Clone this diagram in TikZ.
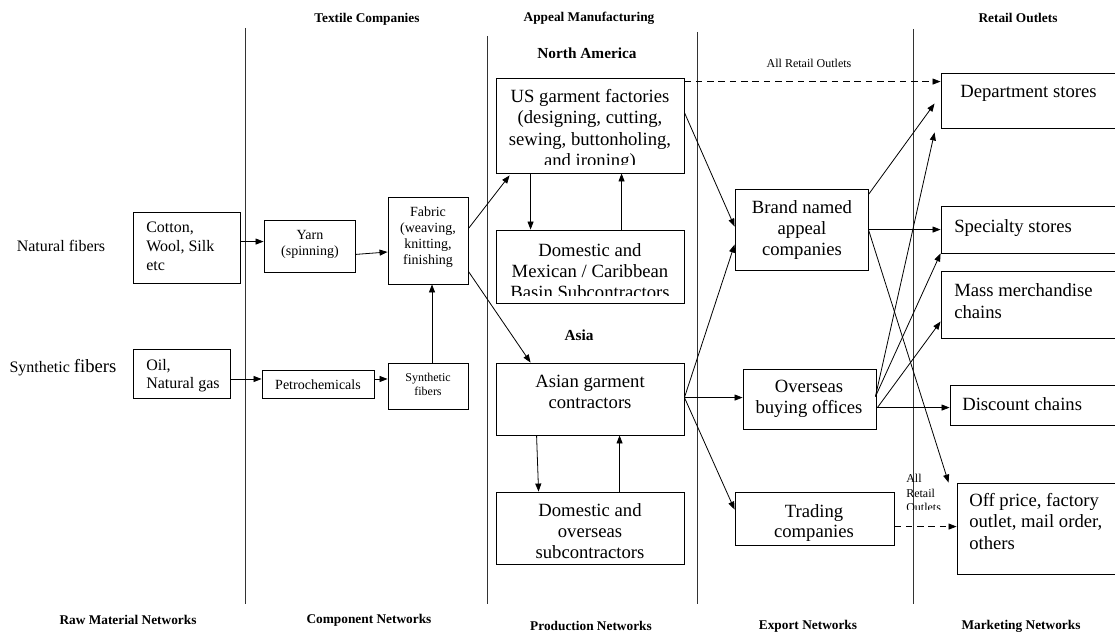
\documentclass[tikz,border=0pt]{standalone}
\usepackage{fontspec}
\setmainfont{Liberation Serif}
\usetikzlibrary{arrows.meta,calc,fit}
\begin{document}
\begin{tikzpicture}[x=0.75pt,y=-0.75pt,
  box/.style={draw, line width=0.65pt, inner sep=0pt},
  sep/.style={line width=0.75pt, draw=black!80},
  arr/.style={line width=0.6pt, -{Triangle[length=6pt,width=4.5pt]}},
  darr/.style={arr, dash pattern=on 5pt off 3.5pt},
  txt/.style={inner sep=0pt, align=center},
  big/.style={font=\fontsize{14}{16}\selectfont},
  mid/.style={font=\fontsize{12}{14}\selectfont},
  sml/.style={font=\fontsize{10.5}{12.3}\selectfont},
  head/.style={inner sep=0pt, font=\bfseries\fontsize{10}{12}\selectfont},
  region/.style={inner sep=0pt, font=\bfseries\fontsize{11.5}{13}\selectfont},
  note/.style={inner sep=0pt, font=\fontsize{9}{11}\selectfont},
]
\useasboundingbox (0,0) rectangle (1115,634);

% column separators
\draw[sep] (245,28) -- (245,604);
\draw[sep] (487,36) -- (487,604);
\draw[sep] (697,32) -- (697,604);
\draw[sep] (913,29) -- (913,604);

% column headings
\node[head] (hTex) at (367,19) {Textile Companies};
\node[head] (hApp) at (589,18) {Appeal Manufacturing};
\node[head] (hRet) at (1018,18) {Retail Outlets};
\node[region] (hNA) at (587,53) {North America};
\node[region] (hAsia) at (579,335) {Asia};
\node[note] (hAll) at (809,63) {All Retail Outlets};

% bottom labels
\node[head] (bRaw) at (128,620) {Raw Material Networks};
\node[head] (bCom) at (369,620) {Component Networks};
\node[head] (bPro) at (591,626) {Production Networks};
\node[head] (bExp) at (808,626) {Export Networks};
\node[head] (bMar) at (1021,626) {Marketing Networks};

% row labels
\node[txt, mid, anchor=base] (natl) at (61,252) {Natural fibers};
\node[txt, anchor=base] (synl) at (63,373) {\fontsize{12}{14}\selectfont Synthetic \fontsize{14}{16}\selectfont fibers};

% raw material and component boxes
\node[box, fit={(133,212) (240,283)}] (cot) {};
\node[txt, mid, anchor=north west, align=left] (cotT) at (146,222) {Cotton,\\Wool, Silk\\etc};
\node[box, fit={(264,220) (355,272)}] (yarn) {};
\node[txt, sml, anchor=north] (yarnT) at (310,230) {Yarn\\(spinning)};
\node[box, fit={(388,197) (468,284)}] (fab) {};
\node[txt, font=\fontsize{10.5}{12}\selectfont, anchor=north] (fabT) at (428,207) {Fabric\\(weaving,\\knitting,\\finishing};
\node[box, fit={(133,349) (230,398)}] (oil) {};
\node[txt, font=\fontsize{12}{13.8}\selectfont, anchor=north west, align=left] (oilT) at (146,359) {Oil,\\Natural gas};
\node[box, fit={(262,370) (374,398)}] (pet) {};
\node[txt, sml] (petT) at (318,385) {Petrochemicals};
\node[box, fit={(388,363) (468,409)}] (syn) {};
\node[txt, font=\fontsize{9}{10.3}\selectfont, anchor=north] (synT) at (428,373) {Synthetic\\fibers};

% production boxes (text runs past the bottom of the first two and is cut off)
\node[box, fit={(496,78) (684,173)}] (us) {};
\begin{scope}
  \clip (496,78) rectangle (684,165);
  \node[txt, big, anchor=north] (usT) at (590,89) {US garment factories\\(designing, cutting,\\sewing, buttonholing,\\and ironing)};
\end{scope}
\node[box, fit={(496,230) (684,303)}] (dmx) {};
\begin{scope}
  \clip (496,230) rectangle (684,295.5);
  \node[txt, big, anchor=north] (dmxT) at (590,243) {Domestic and\\Mexican / Caribbean\\Basin Subcontractors};
\end{scope}
\node[box, fit={(496,363) (684,435)}] (asi) {};
\node[txt, big, anchor=north] (asiT) at (590,375) {Asian garment\\contractors};
\node[box, fit={(496,492) (684,564)}] (dov) {};
\node[txt, big, anchor=north] (dovT) at (590,503) {Domestic and\\overseas\\subcontractors};

% export boxes
\node[box, fit={(735,189) (868,270)}] (brd) {};
\node[txt, big, anchor=north] (brdT) at (802,200) {Brand named\\appeal\\companies};
\node[box, fit={(743,369) (876,429)}] (ovs) {};
\node[txt, big, anchor=north] (ovsT) at (809,380) {Overseas\\buying offices};
\node[box, fit={(735,492) (894,545)}] (trd) {};
\node[txt, font=\fontsize{14}{15.5}\selectfont, anchor=north] (trdT) at (814,504) {Trading\\companies};

% retail boxes
\node[box, fit={(941,73) (1125,128)}] (dep) {};
\node[txt, big, anchor=north west] (depT) at (960,85) {Department stores};
\node[box, fit={(941,206) (1125,253)}] (spe) {};
\node[txt, big, anchor=north west] (speT) at (954,219) {Specialty stores};
\node[box, fit={(941,271) (1125,338)}] (mas) {};
\node[txt, font=\fontsize{14}{16.5}\selectfont, anchor=north west, align=left] (masT) at (954,283) {Mass merchandise\\chains};
\node[box, fit={(950,385) (1125,425)}] (dis) {};
\node[txt, big, anchor=north west] (disT) at (962,397) {Discount chains};
\node[box, fit={(957,483) (1125,574)}] (off) {};
\node[txt, big, anchor=north west, align=left] (offT) at (969,493) {Off price, factory\\outlet, mail order,\\others};
\begin{scope}
  \clip (900,465) rectangle (955,510);
  \node[txt, font=\fontsize{9}{10.9}\selectfont, anchor=north west, align=left] (allT) at (906,474) {All\\Retail\\Outlets};
\end{scope}

% raw material and component flows
\draw[arr] ($(cot.north east)+(0,30)$) -- ($(yarn.north west)+(0,22)$);
\draw[arr] ($(yarn.south east)+(0,-18)$) -- ($(fab.west)+(0,11.5)$);
\draw[arr] ($(syn.north)+(4,0)$) -- ($(fab.south)+(4,0)$);
\draw[arr] ($(oil.east)+(0,5.5)$) -- ($(pet.west)+(0,-5)$);
\draw[arr] ($(pet.east)+(0,-5)$) -- ($(syn.west)+(0,-7)$);
\draw[arr] ($(fab.north east)+(0,32)$) -- ($(us.south west)+(14,2)$);
\draw[arr] ($(fab.south east)+(0,-13)$) -- ($(asi.north west)+(35,0)$);

% production flows
\draw[arr] ($(us.south west)+(35,0)$) -- ($(dmx.north west)+(35,0)$);
\draw[arr] ($(dmx.north west)+(126,0)$) -- ($(us.south west)+(126,0)$);
\draw[arr] ($(asi.south west)+(41,0)$) -- ($(dov.north west)+(43,0)$);
\draw[arr] ($(dov.north west)+(124,0)$) -- ($(asi.south west)+(124,0)$);

% export flows
\draw[darr] ($(us.north east)+(0,4)$) -- ($(dep.north west)+(0,9)$);
\draw[arr] ($(us.north east)+(0,35)$) -- ($(brd.north west)+(0,38)$);
\draw[arr] ($(asi.north east)+(0,35)$) -- ($(brd.north west)+(0,56)$);
\draw[arr] ($(asi.north east)+(0,35)$) -- ($(ovs.north west)+(0,29)$);
\draw[arr] ($(asi.north east)+(0,35)$) -- ($(trd.north west)+(0,18)$);

% marketing flows
\draw[arr] ($(brd.north east)+(0,6)$) -- ($(dep.north west)+(-6,31)$);
\draw[arr] ($(brd.north east)+(0,41)$) -- ($(spe.north west)+(0,24)$);
\draw[arr] ($(brd.north east)+(0,41)$) -- ($(off.north west)+(-8,0)$);
\draw[arr] ($(ovs.north east)+(-1,28)$) -- ($(dep.south west)+(-6,4)$);
\draw[arr] ($(ovs.north east)+(-1,28)$) -- (spe.south west);
\draw[arr] ($(ovs.north east)+(1,39)$) -- ($(mas.north west)+(0,51)$);
\draw[arr] ($(ovs.north east)+(1,39)$) -- ($(dis.north west)+(0,23)$);
\draw[darr] ($(trd.north east)+(0,35)$) -- ($(off.north west)+(0,44)$);
\end{tikzpicture}
\end{document}
